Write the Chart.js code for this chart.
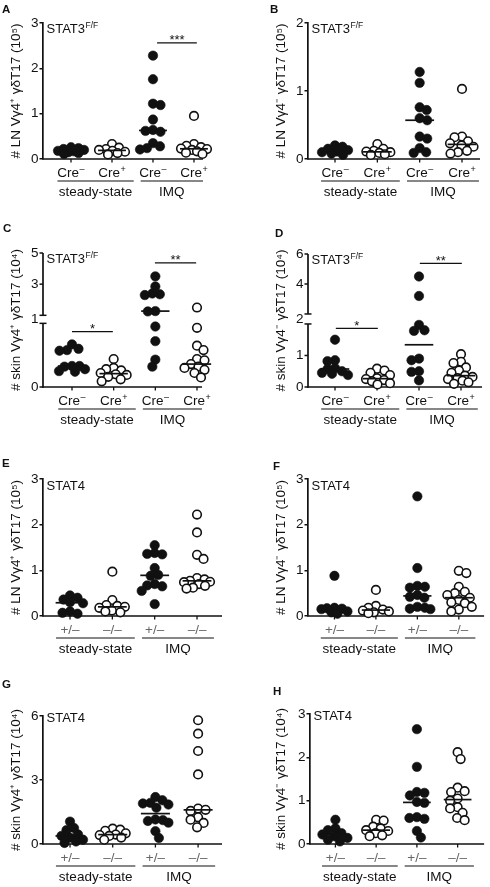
<!DOCTYPE html>
<html>
<head>
<meta charset="utf-8">
<script src="https://cdn.jsdelivr.net/npm/chart.js@4.4.1/dist/chart.umd.min.js"></script>
<style>
  body { margin: 0; background: #fff; width: 490px; height: 887px; position: relative; overflow: hidden; }
  .panel { position: absolute; width: 245px; }
</style>
</head>
<body>
<div class="panel" style="left:0;top:0;height:215px"><canvas id="cA"></canvas></div>
<div class="panel" style="left:245px;top:0;height:215px"><canvas id="cB"></canvas></div>
<div class="panel" style="left:0;top:215px;height:225px"><canvas id="cC"></canvas></div>
<div class="panel" style="left:245px;top:215px;height:225px"><canvas id="cD"></canvas></div>
<div class="panel" style="left:0;top:440px;height:215px"><canvas id="cE"></canvas></div>
<div class="panel" style="left:245px;top:440px;height:215px"><canvas id="cF"></canvas></div>
<div class="panel" style="left:0;top:655px;height:232px"><canvas id="cG"></canvas></div>
<div class="panel" style="left:245px;top:655px;height:232px"><canvas id="cH"></canvas></div>
<script>
const FONT = '"Liberation Sans", Arial, Helvetica, sans-serif';
const INK = '#111';

// categories
const catsStat3 = ['Cre^–', 'Cre^+', 'Cre^–', 'Cre^+'];
const catsStat4 = ['+/–', '–/–', '+/–', '–/–'];
const treatGroups = ['steady-state', 'IMQ'];
const filledGroups = [true, false, true, false];

// values per group: [steady ctrl, steady ko, IMQ ctrl, IMQ ko]
const valuesA = [
  [0.26, 0.24, 0.22, 0.2, 0.18, 0.17, 0.15, 0.13, 0.11],
  [0.33, 0.25, 0.22, 0.2, 0.18, 0.16, 0.13, 0.1],
  [2.28, 1.76, 1.22, 1.19, 0.87, 0.64, 0.62, 0.6, 0.35, 0.28, 0.24, 0.21],
  [0.95, 0.33, 0.29, 0.26, 0.23, 0.22, 0.2, 0.17, 0.14, 0.11]
];
const valuesB = [
  [0.2, 0.18, 0.15, 0.13, 0.11, 0.1, 0.08, 0.06],
  [0.22, 0.15, 0.12, 0.11, 0.1, 0.09, 0.07, 0.06],
  [1.28, 1.12, 0.76, 0.72, 0.6, 0.57, 0.33, 0.3, 0.16, 0.1, 0.09],
  [1.03, 0.33, 0.32, 0.26, 0.23, 0.2, 0.18, 0.12, 0.1, 0.08]
];
const valuesC = [
  [0.67, 0.6, 0.58, 0.57, 0.33, 0.33, 0.32, 0.28, 0.25, 0.24],
  [0.44, 0.3, 0.28, 0.26, 0.22, 0.2, 0.19, 0.16, 0.12, 0.09],
  [3.5, 2.85, 2.4, 2.35, 2.3, 1.27, 1.25, 0.95, 0.72, 0.43, 0.32],
  [1.5, 0.93, 0.65, 0.58, 0.44, 0.42, 0.36, 0.34, 0.32, 0.3, 0.27, 0.22, 0.15]
];
const valuesD = [
  [1.5, 0.85, 0.82, 0.6, 0.57, 0.5, 0.45, 0.42, 0.38],
  [0.58, 0.52, 0.45, 0.38, 0.28, 0.25, 0.22, 0.18, 0.12, 0.08],
  [4.5, 3.2, 1.97, 1.8, 1.78, 0.9, 0.85, 0.5, 0.48, 0.21],
  [1.04, 0.8, 0.76, 0.62, 0.52, 0.45, 0.36, 0.32, 0.28, 0.25, 0.2, 0.15, 0.1]
];
const valuesE = [
  [0.45, 0.4, 0.36, 0.3, 0.28, 0.1, 0.07, 0.05],
  [0.97, 0.35, 0.24, 0.22, 0.2, 0.18, 0.12, 0.1, 0.08],
  [1.55, 1.38, 1.36, 1.35, 1.05, 0.9, 0.88, 0.7, 0.67, 0.65, 0.55, 0.26],
  [2.22, 1.83, 1.34, 1.25, 0.83, 0.8, 0.77, 0.75, 0.74, 0.7, 0.66, 0.62, 0.6]
];
const valuesF = [
  [0.88, 0.18, 0.17, 0.16, 0.15, 0.1, 0.08, 0.05],
  [0.57, 0.22, 0.18, 0.14, 0.12, 0.1, 0.08, 0.06],
  [2.62, 1.05, 0.66, 0.64, 0.62, 0.46, 0.42, 0.4, 0.2, 0.18, 0.16, 0.15],
  [0.99, 0.94, 0.64, 0.53, 0.5, 0.46, 0.4, 0.35, 0.3, 0.28, 0.2, 0.14, 0.1]
];
const valuesG = [
  [1.05, 0.75, 0.65, 0.45, 0.38, 0.3, 0.2, 0.12, 0.05],
  [0.72, 0.67, 0.62, 0.5, 0.44, 0.42, 0.38, 0.3, 0.2],
  [2.2, 2.05, 1.93, 1.9, 1.85, 1.7, 1.15, 1.12, 1.08, 1.0, 0.6, 0.28],
  [5.8, 5.17, 4.36, 3.26, 1.66, 1.6, 1.55, 1.25, 1.14, 0.99, 0.78]
];
const valuesH = [
  [0.56, 0.36, 0.32, 0.25, 0.22, 0.18, 0.14, 0.1, 0.06],
  [0.56, 0.54, 0.4, 0.36, 0.32, 0.3, 0.25, 0.2, 0.18],
  [2.65, 1.78, 1.2, 1.18, 1.12, 0.97, 0.95, 0.62, 0.6, 0.58, 0.3, 0.15],
  [2.12, 1.96, 1.3, 1.22, 1.2, 1.05, 1.0, 0.85, 0.82, 0.72, 0.6, 0.55]
];

// y tick labels
const ticksA = [0, 1, 2, 3];
const ticksB = [0, 1, 2];
const ticksC = [0, 1, 3, 5];
const ticksD = [0, 1, 2, 4, 6];
const ticksE = [0, 1, 2, 3];
const ticksF = [0, 1, 2, 3];
const ticksG = [0, 3, 6];
const ticksH = [0, 1, 2, 3];

// y axis with a gap (panels C and D)
class BrokenScale extends Chart.LinearScale {
  segs() {
    const b = this.options.brk, h = this.bottom - this.top;
    const low = h * b.low, gap = h * b.gap;
    return { low: low, gap: gap, up: h - low - gap, at: b.at };
  }
  getPixelForValue(v) {
    const s = this.segs();
    if (v < s.at) return this.bottom - (v - this.min) / (s.at - this.min) * s.low;
    if (v > s.at) return this.bottom - s.low - s.gap - (v - s.at) / (this.max - s.at) * s.up;
    return this.bottom - s.low - s.gap / 2;
  }
  getValueForPixel(p) {
    const s = this.segs(), d = this.bottom - p;
    if (d <= s.low) return this.min + d / s.low * (s.at - this.min);
    if (d >= s.low + s.gap) return s.at + (d - s.low - s.gap) / s.up * (this.max - s.at);
    return s.at;
  }
}
BrokenScale.id = 'broken';
Chart.register(BrokenScale);

const panels = [
  { id: 'cA', letter: 'A', lx: 2, ly: 13, values: valuesA, ticks: ticksA, ymax: 3, cats: catsStat3,
    title: '# LN Vγ4⁺ γδT17 (10⁵)', stat: ['STAT3', 'F/F'], statDy: 10, titlePad: 8,
    area: { left: 43, top: 23, right: 203, bottom: 159 }, xmin: 0.317, xmax: 4.22,
    sig: [{ x1: 3.1, x2: 4.07, y: 2.56, t: '***' }] },
  { id: 'cB', letter: 'B', lx: 25, ly: 13, values: valuesB, ticks: ticksB, ymax: 2, cats: catsStat3,
    title: '# LN Vγ4⁻ γδT17 (10⁵)', stat: ['STAT3', 'F/F'], statDy: 10, titlePad: 28.5,
    area: { left: 63, top: 23, right: 235, bottom: 159 }, xmin: 0.362, xmax: 4.425, sig: [] },
  { id: 'cC', letter: 'C', lx: 3, ly: 17, values: valuesC, ticks: ticksC, ymax: 5, cats: catsStat3,
    title: '# skin Vγ4⁺ γδT17 (10⁴)', stat: ['STAT3', 'F/F'], statDy: 10, titlePad: 8,
    area: { left: 43, top: 38, right: 202, bottom: 172 }, xmin: 0.304, xmax: 4.12,
    brk: { at: 1, low: 0.475, gap: 0.06 },
    sig: [{ x1: 1.0, x2: 1.98, y: 0.87, t: '*' }, { x1: 2.99, x2: 3.98, y: 4.36, t: '**' }] },
  { id: 'cD', letter: 'D', lx: 30, ly: 22, values: valuesD, ticks: ticksD, ymax: 6, cats: catsStat3,
    title: '# skin Vγ4⁻ γδT17 (10⁴)', stat: ['STAT3', 'F/F'], statDy: 10, titlePad: 28.5,
    area: { left: 63, top: 39, right: 237, bottom: 172 }, xmin: 0.357, xmax: 4.5,
    brk: { at: 2, low: 0.474, gap: 0.075 },
    sig: [{ x1: 1.02, x2: 2.02, y: 1.86, t: '*' }, { x1: 3.02, x2: 4.02, y: 5.38, t: '**' }] },
  { id: 'cE', letter: 'E', lx: 2, ly: 27, values: valuesE, ticks: ticksE, ymax: 3, cats: catsStat4,
    title: '# LN Vγ4⁺ γδT17 (10⁵)', stat: ['STAT4', ''], statDy: 10.5, titlePad: 8,
    area: { left: 43, top: 39, right: 222, bottom: 176 }, xmin: 0.362, xmax: 4.59, sig: [] },
  { id: 'cF', letter: 'F', lx: 28, ly: 30, values: valuesF, ticks: ticksF, ymax: 3, cats: catsStat4,
    title: '# LN Vγ4⁻ γδT17 (10⁵)', stat: ['STAT4', ''], statDy: 10.5, titlePad: 28.5,
    area: { left: 63, top: 39, right: 243, bottom: 176 }, xmin: 0.362, xmax: 4.61, sig: [] },
  { id: 'cG', letter: 'G', lx: 2, ly: 33, values: valuesG, ticks: ticksG, ymax: 6, cats: catsStat4,
    title: '# skin Vγ4⁺ γδT17 (10⁴)', stat: ['STAT4', ''], statDy: 6, titlePad: 8,
    area: { left: 43, top: 61, right: 222, bottom: 189 }, xmin: 0.367, xmax: 4.56, sig: [] },
  { id: 'cH', letter: 'H', lx: 28, ly: 40, values: valuesH, ticks: ticksH, ymax: 3, cats: catsStat4,
    title: '# skin Vγ4⁻ γδT17 (10⁴)', stat: ['STAT4', ''], statDy: 6, titlePad: 28.5,
    area: { left: 65, top: 59, right: 243, bottom: 189 }, xmin: 0.376, xmax: 4.65, sig: [] }
];

function median(a) {
  const s = a.slice().sort((p, q) => p - q), n = s.length;
  return n % 2 ? s[(n - 1) / 2] : (s[n / 2 - 1] + s[n / 2]) / 2;
}

function line(ctx, x1, y1, x2, y2) {
  ctx.beginPath(); ctx.moveTo(x1, y1); ctx.lineTo(x2, y2); ctx.stroke();
}

function drawSup(ctx, base, sup, x, yb, size, supSize, align, color) {
  ctx.fillStyle = color || INK;
  ctx.textAlign = 'left';
  ctx.textBaseline = 'alphabetic';
  ctx.font = size + 'px ' + FONT;
  const w1 = ctx.measureText(base).width;
  ctx.font = supSize + 'px ' + FONT;
  const w2 = sup ? ctx.measureText(sup).width + 0.5 : 0;
  const x0 = align === 'center' ? x - (w1 + w2) / 2 : x;
  ctx.font = size + 'px ' + FONT;
  ctx.fillText(base, x0, yb);
  if (sup) {
    ctx.font = supSize + 'px ' + FONT;
    ctx.fillText(sup, x0 + w1 + 0.5, yb - size * 0.36);
  }
}

// spread the dots of each group sideways, but keep each group compact
const MIN_D = 7.5;
const MAX_OFF = 13;
function swarm(chart) {
  const xs = chart.scales.x, ys = chart.scales.y;
  const ppu = xs.getPixelForValue(2) - xs.getPixelForValue(1);
  chart.data.datasets.forEach(ds => {
    if (!ds.group) return;
    const placed = [];
    const idx = ds.data.map((d, i) => i).sort((a, b) => ds.data[b].y - ds.data[a].y);
    idx.forEach((i, n) => {
      const py = ys.getPixelForValue(ds.data[i].y);
      const side = n % 2 ? 1 : -1;
      let off = null, bestOff = 0, bestD = -1;
      for (let k = 0; k <= MAX_OFF * 4; k++) {
        const cand = Math.floor((k + 1) / 2) * 0.5 * (k % 2 ? 1 : -1) * side;
        const dmin = placed.reduce((m, q) => Math.min(m, Math.hypot(q.x - cand, q.y - py)), Infinity);
        if (dmin >= MIN_D) { off = cand; break; }
        if (dmin > bestD + 0.3) { bestD = dmin; bestOff = cand; }
      }
      if (off === null) off = bestOff;
      placed.push({ x: off, y: py });
      ds.data[i].x = ds.group + off / ppu;
    });
  });
}

function decoPlugin(p) {
  return {
    id: 'deco',
    beforeDatasetsDraw(chart) {
      const { ctx, chartArea: a, scales: { x, y } } = chart;
      ctx.save();
      ctx.strokeStyle = INK;
      ctx.lineWidth = 1.7;
      line(ctx, a.left - 0.85, a.bottom, a.right, a.bottom);
      ctx.lineWidth = 1.3;
      for (let g = 1; g <= 4; g++) {
        const px = x.getPixelForValue(g);
        line(ctx, px, a.bottom, px, a.bottom + 3.5);
      }
      if (p.brk) {
        const s = y.segs();
        const gapTop = a.bottom - s.low - s.gap, gapBot = a.bottom - s.low;
        ctx.lineWidth = 1.7;
        line(ctx, a.left, a.top, a.left, gapTop);
        line(ctx, a.left, gapBot, a.left, a.bottom + 0.85);
        ctx.lineWidth = 1.5;
        p.ticks.forEach(v => {
          if (v === s.at) return;
          const py = y.getPixelForValue(v);
          line(ctx, a.left - 3.5, py, a.left, py);
        });
        line(ctx, a.left - 3.5, gapTop, a.left + 3.5, gapTop);
        line(ctx, a.left - 3.5, gapBot, a.left + 3.5, gapBot);
      }
      ctx.restore();
    },
    afterDraw(chart) {
      const { ctx, chartArea: a, scales: { x, y } } = chart;
      ctx.save();
      ctx.fillStyle = INK;
      ctx.strokeStyle = INK;
      // panel letter
      ctx.font = 'bold 11.5px ' + FONT;
      ctx.textAlign = 'left';
      ctx.textBaseline = 'alphabetic';
      ctx.fillText(p.letter, p.lx, p.ly);
      // genotype label
      drawSup(ctx, p.stat[0], p.stat[1], a.left + 3.5, a.top + p.statDy, 13, 8.5, 'left');
      // group labels under the axis
      const catColor = p.cats === catsStat4 ? '#666' : INK;
      p.cats.forEach((c, i) => {
        const parts = c.split('^');
        drawSup(ctx, parts[0], parts[1] || '', x.getPixelForValue(i + 1), a.bottom + 18.2, 13.5, 9, 'center', catColor);
      });
      const spans = [[0.67, 2.53], [2.7, Math.min(4.4, p.xmax)]];
      ctx.lineWidth = 1.2;
      spans.forEach((sp, i) => {
        const x1 = x.getPixelForValue(sp[0]), x2 = x.getPixelForValue(sp[1]);
        line(ctx, x1, a.bottom + 22, x2, a.bottom + 22);
        ctx.fillStyle = INK;
        ctx.font = '13.5px ' + FONT;
        ctx.textAlign = 'center';
        ctx.fillText(treatGroups[i], (x1 + x2) / 2, a.bottom + 37.4);
      });
      // significance bars
      p.sig.forEach(s => {
        const x1 = x.getPixelForValue(s.x1), x2 = x.getPixelForValue(s.x2), py = y.getPixelForValue(s.y);
        ctx.lineWidth = 1.2;
        line(ctx, x1, py, x2, py);
        ctx.font = '13px ' + FONT;
        ctx.textAlign = 'center';
        ctx.fillText(s.t, (x1 + x2) / 2, py + 1.5);
      });
      ctx.restore();
    }
  };
}

function makePanel(p) {
  const canvas = document.getElementById(p.id);
  const H = canvas.parentNode.clientHeight;
  const datasets = [];
  p.values.forEach((vals, i) => {
    const g = i + 1, filled = filledGroups[i];
    datasets.push({
      data: vals.map(v => ({ x: g, y: v })),
      group: g,
      pointRadius: filled ? 4.7 : 4.3,
      pointBorderWidth: filled ? 0.6 : 1.6,
      pointBackgroundColor: filled ? INK : '#fff',
      pointBorderColor: INK,
      showLine: false,
      clip: false,
      order: 2
    });
    const m = median(vals);
    datasets.push({
      data: [{ x: g - 0.34, y: m }, { x: g + 0.34, y: m }],
      showLine: true,
      borderColor: INK,
      borderWidth: 1.7,
      pointRadius: 0,
      clip: false,
      order: 1
    });
  });

  const chart = new Chart(canvas, {
    type: 'scatter',
    data: { datasets: datasets },
    options: {
      responsive: true,
      maintainAspectRatio: false,
      animation: false,
      events: [],
      layout: { padding: { left: 0, top: p.area.top, right: 245 - p.area.right, bottom: H - p.area.bottom } },
      plugins: { legend: { display: false }, tooltip: { enabled: false } },
      scales: {
        x: { type: 'linear', min: p.xmin, max: p.xmax, display: false },
        y: {
          type: p.brk ? 'broken' : 'linear',
          min: 0,
          max: p.ymax,
          brk: p.brk,
          afterBuildTicks: s => { s.ticks = p.ticks.map(v => ({ value: v })); },
          afterFit: s => { s.width = p.area.left; },
          grid: { display: !p.brk, drawOnChartArea: false, color: INK, lineWidth: 1.5, tickLength: 3.5 },
          border: { display: !p.brk, color: INK, width: 1.7 },
          ticks: { color: INK, font: { family: FONT, size: 13.5 }, padding: 1, autoSkip: false },
          title: { display: true, text: p.title, color: INK, font: { family: FONT, size: 13.5 },
                   padding: { top: p.titlePad, bottom: 0 } }
        }
      }
    },
    plugins: [decoPlugin(p)]
  });
  swarm(chart);
  chart.update('none');
}

panels.forEach(makePanel);
</script>
</body>
</html>
